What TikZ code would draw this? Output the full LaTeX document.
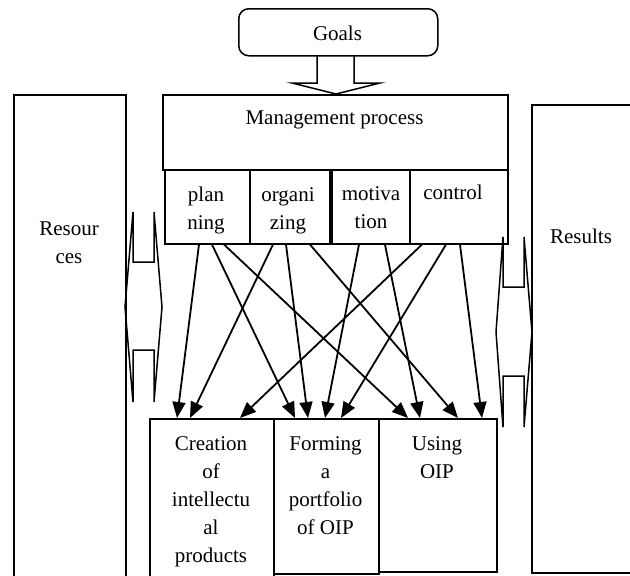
\documentclass[tikz,border=0pt]{standalone}
\usepackage{fontspec}
\setmainfont{Liberation Serif}
\usetikzlibrary{arrows.meta}
\begin{document}
\begin{tikzpicture}[x=1pt,y=-1pt,
  box/.style={draw, line width=1.5pt, inner sep=0pt, anchor=north west},
  txt/.style={font=\fontsize{21}{28}\selectfont, align=center, inner sep=0pt, anchor=north},
  arr/.style={line width=1.8pt, -{Triangle[length=16pt,width=13pt]}},
  blk/.style={draw, line width=1.5pt, line join=miter}]
\useasboundingbox (0,0) rectangle (630,576);
\clip (0,0) rectangle (630,576);

% boxes
\node[box, rounded corners=10pt, minimum width=199pt, minimum height=47pt] (goals) at (238,8) {};
\node[box, minimum width=345pt, minimum height=75pt] (mgmt) at (162,94) {};
\node[box, minimum width=85pt, minimum height=74pt] (plan) at (164,169) {};
\node[box, minimum width=80pt, minimum height=74pt] (org) at (249,169) {};
\node[box, minimum width=78pt, minimum height=74pt] (mot) at (331,169) {};
\node[box, minimum width=98pt, minimum height=74pt] (ctl) at (409,169) {};
\node[box, minimum width=112pt, minimum height=520pt] (res) at (13,94) {};
\node[box, minimum width=120pt, minimum height=468pt] (rsl) at (531,104) {};
\node[box, minimum width=124pt, minimum height=200pt] (create) at (149,418) {};
\node[box, minimum width=105pt, minimum height=155pt] (form) at (273,418) {};
\node[box, minimum width=118pt, minimum height=153pt] (use) at (378,418) {};

% texts
\node[txt] (goalst) at (337.5,20.4) {\strut Goals};
\node[txt] (mgmtt) at (334.5,104.4) {\strut Management process};
\node[txt] (plant) at (206,181.4) {\strut plan\\\strut ning};
\node[txt] (orgt) at (288,181.4) {\strut organi\\\strut zing};
\node[txt] (mott) at (371,180.4) {\strut motiva\\\strut tion};
\node[txt] (ctlt) at (453,179.4) {\strut control};
\node[txt] (rest) at (69,215.4) {\strut Resour\\\strut ces};
\node[txt] (rslt) at (581,223.4) {\strut Results};
\node[txt] (createt) at (211,430.4) {\strut Creation\\\strut of\\\strut intellectu\\\strut al\\\strut products};
\node[txt] (formt) at (325.5,430.4) {\strut Forming\\\strut a\\\strut portfolio\\\strut of OIP};
\node[txt] (uset) at (437,430.4) {\strut Using\\\strut OIP};

% block arrow goals -> management
\draw[blk] (317,55) -- (317,83) -- (292,83) -- (336,94) -- (380,83) -- (354,83) -- (354,55);

% double block arrows
\draw[blk] (133,212) -- (133,262) -- (154,262) -- (154,212) -- (162,307) -- (154,402)
  -- (154,350) -- (133,350) -- (133,402) -- (125,307) -- cycle;
\draw[blk] (503,237) -- (503,287) -- (524,287) -- (524,237) -- (532,332) -- (524,427)
  -- (524,376) -- (503,376) -- (503,427) -- (496,332) -- cycle;

% connectors
\draw[arr] ([xshift=35pt]plan.south west) -- ([xshift=28pt]create.north west);
\draw[arr] ([xshift=48pt]plan.south west) -- ([xshift=22pt]form.north west);
\draw[arr] ([xshift=60pt]plan.south west) -- ([xshift=30pt]use.north west);
\draw[arr] ([xshift=24pt]org.south west) -- ([xshift=41pt]create.north west);
\draw[arr] ([xshift=37pt]org.south west) -- ([xshift=35pt]form.north west);
\draw[arr] ([xshift=61pt]org.south west) -- ([xshift=80pt]use.north west);
\draw[arr] ([xshift=28pt]mot.south west) -- ([xshift=52pt]form.north west);
\draw[arr] ([xshift=54pt]mot.south west) -- ([xshift=42pt]use.north west);
\draw[arr] ([xshift=13pt]ctl.south west) -- ([xshift=91pt]create.north west);
\draw[arr] ([xshift=37pt]ctl.south west) -- ([xshift=68pt]form.north west);
\draw[arr] ([xshift=51pt]ctl.south west) -- ([xshift=104pt]use.north west);
\end{tikzpicture}
\end{document}
